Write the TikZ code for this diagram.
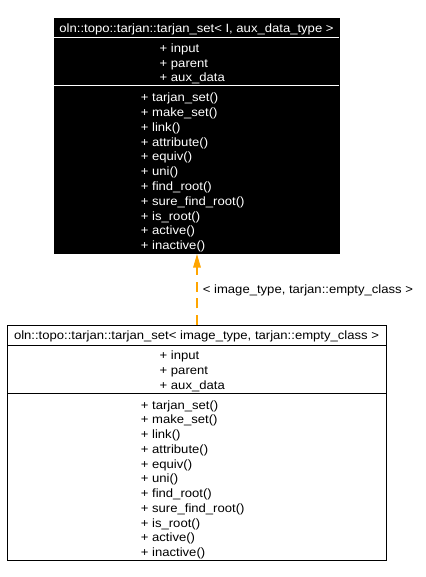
\documentclass[tikz,border=0pt]{standalone}
\usepackage{fontspec}
\setmainfont{Liberation Sans}[FakeStretch=1.09]
\usetikzlibrary{arrows.meta}
\definecolor{edgeorange}{HTML}{FFA500}
\begin{document}
\begin{tikzpicture}[x=1pt,y=1pt,
  txt/.style={inner sep=0pt, anchor=base west, font=\fontsize{12}{14.75}\selectfont},
  ttl/.style={inner sep=0pt, anchor=base, font=\fontsize{12}{14.75}\selectfont},
  darkbox/.style={draw=black, fill=black, line width=1pt, inner sep=0pt, anchor=north west},
  lightbox/.style={draw=black, fill=white, line width=1pt, inner sep=0pt, anchor=north west},
  darksep/.style={draw=white, line width=1pt},
  lightsep/.style={draw=black, line width=1pt},
  inherit/.style={draw=edgeorange, line width=1.3pt, dash pattern=on 10pt off 6.7pt,
    -{Triangle[length=13.5pt,width=7.5pt,fill=edgeorange]}}]
\useasboundingbox (0,0) rectangle (425,-577);

% ---- base class (black) ----
\node[darkbox, minimum width=285pt, minimum height=235pt] (base) at (54,-18) {};
\draw[darksep] (54,-38) -- (339,-38);
\draw[darksep] (54,-86) -- (339,-86);
\node[ttl, text=white] (basetitle) at (196.5,-32.5) {oln::topo::tarjan::tarjan\_set< I, aux\_data\_type >};
\node[txt, text=white] (ba1) at (159.5,-52.5) {+ input};
\node[txt, text=white] (ba2) at (159.5,-67.2) {+ parent};
\node[txt, text=white] (ba3) at (159.5,-82) {+ aux\_data};
\node[txt, text=white] (bm1) at (140.7,-102) {+ tarjan\_set()};
\node[txt, text=white] (bm2) at (140.7,-116.75) {+ make\_set()};
\node[txt, text=white] (bm3) at (140.7,-131.5) {+ link()};
\node[txt, text=white] (bm4) at (140.7,-146.25) {+ attribute()};
\node[txt, text=white] (bm5) at (140.7,-161) {+ equiv()};
\node[txt, text=white] (bm6) at (140.7,-175.75) {+ uni()};
\node[txt, text=white] (bm7) at (140.7,-190.5) {+ find\_root()};
\node[txt, text=white] (bm8) at (140.7,-205.25) {+ sure\_find\_root()};
\node[txt, text=white] (bm9) at (140.7,-220) {+ is\_root()};
\node[txt, text=white] (bm10) at (140.7,-234.75) {+ active()};
\node[txt, text=white] (bm11) at (140.7,-249.5) {+ inactive()};

% ---- derived class (white) ----
\node[lightbox, minimum width=378.4pt, minimum height=235pt] (derived) at (7.3,-325) {};
\draw[lightsep] (7.3,-345) -- (385.7,-345);
\draw[lightsep] (7.3,-393) -- (385.7,-393);
\node[ttl] (dertitle) at (196.5,-339.5) {oln::topo::tarjan::tarjan\_set< image\_type, tarjan::empty\_class >};
\node[txt] (da1) at (159.5,-359.5) {+ input};
\node[txt] (da2) at (159.5,-374.2) {+ parent};
\node[txt] (da3) at (159.5,-389) {+ aux\_data};
\node[txt] (dm1) at (140.7,-409) {+ tarjan\_set()};
\node[txt] (dm2) at (140.7,-423.75) {+ make\_set()};
\node[txt] (dm3) at (140.7,-438.5) {+ link()};
\node[txt] (dm4) at (140.7,-453.25) {+ attribute()};
\node[txt] (dm5) at (140.7,-468) {+ equiv()};
\node[txt] (dm6) at (140.7,-482.75) {+ uni()};
\node[txt] (dm7) at (140.7,-497.5) {+ find\_root()};
\node[txt] (dm8) at (140.7,-512.25) {+ sure\_find\_root()};
\node[txt] (dm9) at (140.7,-527) {+ is\_root()};
\node[txt] (dm10) at (140.7,-541.75) {+ active()};
\node[txt] (dm11) at (140.7,-556.5) {+ inactive()};

% ---- inheritance edge ----
\draw[inherit] (derived.north) -- (base.south);
\node[txt] (edgelabel) at (202.7,-293) {< image\_type, tarjan::empty\_class >};
\end{tikzpicture}
\end{document}
